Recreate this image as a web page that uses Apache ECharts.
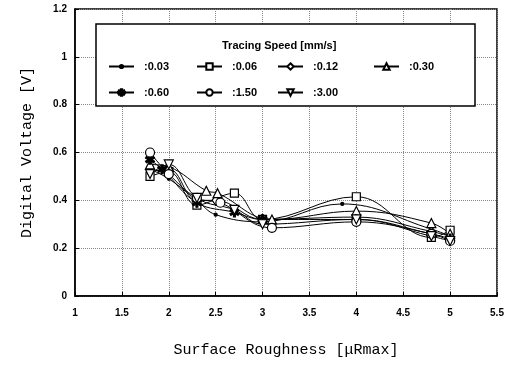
<!DOCTYPE html>
<html>
<head>
<meta charset="utf-8">
<script src="https://cdn.jsdelivr.net/npm/echarts@6/dist/echarts.min.js"></script>
<style>
  html, body { margin: 0; padding: 0; background: #fff; }
  #chart { width: 514px; height: 366px; }
</style>
</head>
<body>
<div id="chart"></div>
<script>
// tracing speeds (legend names)
var speeds = [':0.03', ':0.06', ':0.12', ':0.30', ':0.60', ':1.50', ':3.00'];

// [surface roughness, digital voltage] per tracing speed
var v003 = [[1.8, 0.53], [2.0, 0.49], [2.3, 0.40], [2.5, 0.34], [3.0, 0.31], [3.85, 0.385], [4.8, 0.28], [5.0, 0.25]];
var v006 = [[1.8, 0.50], [2.0, 0.52], [2.3, 0.38], [2.7, 0.43], [3.0, 0.32], [4.0, 0.415], [4.8, 0.245], [5.0, 0.275]];
var v012 = [[1.8, 0.52], [2.0, 0.53], [2.3, 0.40], [2.5, 0.40], [3.0, 0.32], [4.0, 0.33], [4.8, 0.27], [5.0, 0.25]];
var v030 = [[1.8, 0.55], [2.0, 0.54], [2.4, 0.44], [2.52, 0.43], [3.1, 0.32], [4.0, 0.355], [4.8, 0.305], [5.0, 0.26]];
var v060 = [[1.8, 0.57], [1.93, 0.53], [2.3, 0.39], [2.7, 0.35], [3.0, 0.32], [4.0, 0.32], [4.8, 0.26], [5.0, 0.24]];
var v150 = [[1.8, 0.60], [2.0, 0.51], [2.3, 0.41], [2.55, 0.39], [3.1, 0.285], [4.0, 0.31], [4.8, 0.26], [5.0, 0.23]];
var v300 = [[1.8, 0.51], [2.0, 0.55], [2.3, 0.41], [2.7, 0.36], [3.0, 0.30], [4.0, 0.32], [4.8, 0.25], [5.0, 0.23]];

var allData = [v003, v006, v012, v030, v060, v150, v300];

// marker shapes
var asterisk = 'path://M4,0h2v3.3l2.9,-1.7l1,1.7l-2.9,1.7l2.9,1.7l-1,1.7l-2.9,-1.7v3.3h-2v-3.3l-2.9,1.7l-1,-1.7l2.9,-1.7l-2.9,-1.7l1,-1.7l2.9,1.7z';
var downTri = 'path://M0,0L10,0L5,9Z';
var symbols = ['circle', 'rect', 'diamond', 'triangle', asterisk, 'circle', downTri];
var sizes = [3, 8, [7, 10], 9, 9, 9, 9];
var fills = ['#000', '#fff', '#fff', '#fff', '#000', '#fff', '#fff'];

// legend item positions (left, top) and icon height
var legendPos = [[108, 61], [196, 61], [277, 61], [373, 61], [108, 87], [196, 87], [277, 87]];
var legendH = [4, 8, 8, 8, 8, 8, 8];

var myChart = echarts.init(document.getElementById('chart'));

var series = [];
var legends = [];
for (var i = 0; i < speeds.length; i++) {
  series.push({
    name: speeds[i],
    type: 'line',
    data: allData[i],
    smooth: 0.4,
    symbol: symbols[i],
    symbolSize: sizes[i],
    lineStyle: { color: '#000', width: 1 },
    itemStyle: { color: fills[i], borderColor: '#000', borderWidth: 1.2 },
    z: 3
  });
  legends.push({
    data: [speeds[i]],
    left: legendPos[i][0],
    top: legendPos[i][1],
    itemWidth: 25,
    itemHeight: legendH[i],
    padding: 0,
    textStyle: { fontFamily: 'Liberation Sans', fontWeight: 'bold', fontSize: 11, color: '#000', padding: [0, 0, 0, 5] },
    z: 5
  });
}

var option = {
  animation: false,
  backgroundColor: '#fff',
  title: {
    text: 'Tracing Speed [mm/s]',
    left: 222,
    top: 40,
    padding: 0,
    textStyle: { fontFamily: 'Liberation Sans', fontWeight: 'bold', fontSize: 11, color: '#000' },
    z: 5
  },
  legend: legends,
  grid: {
    left: 75, right: 17, top: 9, bottom: 70,
    show: true,
    borderColor: '#000',
    borderWidth: 1.5
  },
  // box around the legend
  graphic: [{
    type: 'rect',
    shape: { x: 96, y: 24, width: 379, height: 82 },
    style: { fill: '#fff', stroke: '#000', lineWidth: 1.5 },
    z: 4
  }],
  xAxis: {
    type: 'value',
    min: 1, max: 5.5, interval: 0.5,
    name: 'Surface Roughness [\u03bcRmax]',
    nameLocation: 'middle',
    nameGap: 47,
    nameTextStyle: { fontFamily: 'Liberation Mono', fontSize: 15, color: '#000' },
    axisLine: { lineStyle: { color: '#000', width: 1.5 } },
    axisTick: { inside: true, length: 4, lineStyle: { color: '#000' } },
    axisLabel: { fontFamily: 'Liberation Sans', fontWeight: 'bold', fontSize: 10, color: '#000', margin: 12 },
    splitLine: { show: true, lineStyle: { type: 'dotted', color: '#888' } }
  },
  yAxis: {
    type: 'value',
    min: 0, max: 1.2, interval: 0.2,
    name: 'Digital Voltage [V]',
    nameLocation: 'middle',
    nameGap: 40,
    nameTextStyle: { fontFamily: 'Liberation Mono', fontSize: 15, color: '#000' },
    axisLine: { lineStyle: { color: '#000', width: 1.5 } },
    axisTick: { inside: true, length: 4, lineStyle: { color: '#000' } },
    axisLabel: { fontFamily: 'Liberation Sans', fontWeight: 'bold', fontSize: 10, color: '#000', margin: 8 },
    splitLine: { show: true, lineStyle: { type: 'dotted', color: '#888' } }
  },
  series: series
};

myChart.setOption(option);
</script>
</body>
</html>
